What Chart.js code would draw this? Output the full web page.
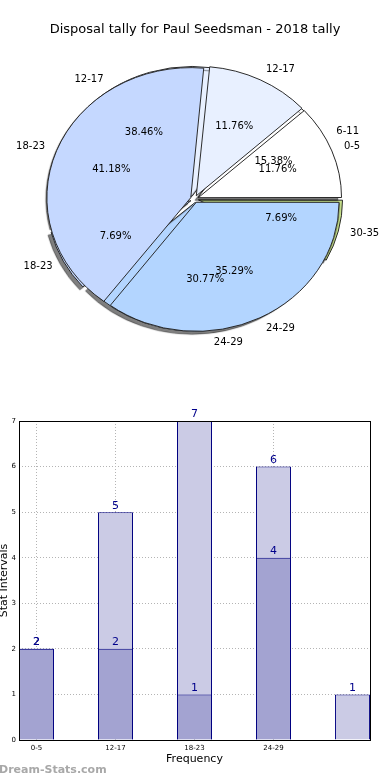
<!DOCTYPE html>
<html>
<head>
<meta charset="utf-8">
<script src="https://cdn.jsdelivr.net/npm/chart.js@4.4.1/dist/chart.umd.min.js"></script>
<style>
  body { margin: 0; background: #fff; }
  #wrap { position: relative; width: 390px; height: 780px; overflow: hidden; font-family: "DejaVu Sans", sans-serif; }
  #title { position: absolute; top: 21px; left: 0; width: 390px; text-align: center; font-size: 13px; color: #000; }
  canvas { position: absolute; left: 0; }
  #mark { position: absolute; left: -1px; top: 763px; font-size: 11px; font-weight: bold; color: #a8a8a8; }
</style>
</head>
<body>
<div id="wrap">
  <canvas id="pieA" width="390" height="380" style="top:0"></canvas>
  <canvas id="pieB" width="390" height="380" style="top:0"></canvas>
  <div id="title"></div>
  <canvas id="bars" width="390" height="380" style="top:400px"></canvas>
  <div id="mark">Dream-Stats.com</div>
</div>
<script>
// chart data
const chartTitle = "Disposal tally for Paul Seedsman - 2018 tally";

const pieALabels = ["6-11", "12-17", "18-23", "24-29", "30-35"];
const pieAValues = [2, 5, 1, 4, 1];

const pieBLabels = ["0-5", "12-17", "18-23", "24-29"];
const pieBValues = [2, 2, 7, 6];

const barCategories = ["0-5", "12-17", "18-23", "24-29", "30-35"];
const barTickLabels = ["0-5", "12-17", "18-23", "24-29"];
const lightValues = [2, 5, 7, 6, 1];
const darkValues = [2, 2, 1, 4, null];

const wedgeColors = {
    "0-5": "#ffffff", "6-11": "#ffffff", "12-17": "#e8f0ff",
    "18-23": "#c5d8ff", "24-29": "#b3d5ff", "30-35": "#c8e28c"
};

document.getElementById("title").textContent = chartTitle;

const SY = 0.904;      // pie is drawn a bit squashed, like the original
const FONT = "DejaVu Sans";

// squash the pie vertically (and give the lower pie its shadow)
function squashPlugin(shadow) {
    return {
        id: "squash",
        beforeDatasetsDraw(chart) {
            const el = chart.getDatasetMeta(0).data[0];
            const ctx = chart.ctx;
            ctx.save();
            ctx.translate(el.x, el.y);
            ctx.scale(1, SY);
            ctx.translate(-el.x, -el.y);
            if (shadow) {
                ctx.shadowColor = "rgba(0,0,0,0.5)";
                ctx.shadowOffsetX = -3;
                ctx.shadowOffsetY = 3;
                ctx.shadowBlur = 1;
            }
        },
        afterDatasetsDraw(chart) {
            chart.ctx.restore();
        }
    };
}

function pieConfig(labels, values, shadow, extraPlugins) {
    const labs = labels.slice().reverse();
    const vals = values.slice().reverse();
    return {
        type: "pie",
        data: {
            labels: labs,
            datasets: [{
                data: vals,
                backgroundColor: labs.map(l => wedgeColors[l]),
                borderColor: "#222",
                borderWidth: 1,
                offset: 16
            }]
        },
        options: {
            responsive: false,
            animation: false,
            rotation: 90,
            radius: 142,
            layout: { padding: { left: 40, right: 41, top: 40, bottom: 22 } },
            plugins: { legend: { display: false }, tooltip: { enabled: false } }
        },
        plugins: [squashPlugin(shadow)].concat(extraPlugins || [])
    };
}

function drawPieText(chart, ctx) {
    const meta = chart.getDatasetMeta(0);
    const ds = chart.data.datasets[0].data;
    const total = ds.reduce((a, b) => a + b, 0);
    ctx.font = "10px '" + FONT + "'";
    ctx.fillStyle = "#000";
    ctx.textBaseline = "middle";
    meta.data.forEach((el, i) => {
        const mid = (el.startAngle + el.endAngle) / 2;
        const off = (el.options.offset || 0) / 4;
        const r = el.outerRadius;
        const c = Math.cos(mid), s = Math.sin(mid);
        const lr = 1.1 * r + off;
        ctx.textAlign = c >= 0 ? "left" : "right";
        ctx.fillText(chart.data.labels[i], el.x + c * lr, el.y + s * lr * SY);
        const pr = 0.6 * r + off;
        ctx.textAlign = "center";
        ctx.fillText((ds[i] / total * 100).toFixed(2) + "%", el.x + c * pr, el.y + s * pr * SY);
    });
}

const pieA = new Chart(document.getElementById("pieA"), pieConfig(pieALabels, pieAValues, true));

const pieTextPlugin = {
    id: "pieText",
    afterDraw(chart) {
        drawPieText(pieA, chart.ctx);
        drawPieText(chart, chart.ctx);
    }
};
const pieB = new Chart(document.getElementById("pieB"), pieConfig(pieBLabels, pieBValues, false, [pieTextPlugin]));

// bar chart
const barFrame = {
    id: "barFrame",
    afterDraw(chart) {
        const a = chart.chartArea, ctx = chart.ctx;
        ctx.save();
        ctx.strokeStyle = "#000";
        ctx.lineWidth = 1;
        ctx.strokeRect(Math.round(a.left) + 0.5, Math.round(a.top) + 0.5,
            Math.round(a.right - a.left), Math.round(a.bottom - a.top));
        ctx.restore();
    }
};

const barValueLabels = {
    id: "barValueLabels",
    afterDatasetsDraw(chart) {
        const ctx = chart.ctx;
        ctx.save();
        ctx.font = "11px '" + FONT + "'";
        ctx.fillStyle = "#00008b";
        ctx.textAlign = "center";
        ctx.textBaseline = "bottom";
        chart.data.datasets.forEach((ds, di) => {
            chart.getDatasetMeta(di).data.forEach((bar, i) => {
                const v = ds.data[i].y;
                if (v === null) return;
                ctx.fillText(String(v), bar.x, bar.y - 1);
            });
        });
        ctx.restore();
    }
};

const gridStyle = {
    color: "#b4b4b4",
    lineWidth: 1,
    drawTicks: false,
    offset: false
};

new Chart(document.getElementById("bars"), {
    type: "bar",
    data: {
        datasets: [
            {
                label: "dark",
                data: darkValues.map((v, i) => ({ x: i, y: v })),
                backgroundColor: "#a3a3d1",
                borderColor: "#000080",
                borderWidth: 1,
                grouped: false,
                categoryPercentage: 1,
                barPercentage: 0.443
            },
            {
                label: "light",
                data: lightValues.map((v, i) => ({ x: i, y: v })),
                backgroundColor: "#cbcbe5",
                borderColor: "#000080",
                borderWidth: 1,
                grouped: false,
                categoryPercentage: 1,
                barPercentage: 0.443
            }
        ]
    },
    options: {
        responsive: false,
        animation: false,
        layout: { padding: { top: 21, right: 20, left: 0, bottom: 0 } },
        plugins: { legend: { display: false }, tooltip: { enabled: false } },
        scales: {
            x: {
                type: "linear",
                offset: false,
                min: -0.222,
                max: barCategories.length - 1 + 0.222,
                z: 1,
                border: { display: false, dash: [1, 2] },
                grid: gridStyle,
                afterBuildTicks: scale => {
                    scale.ticks = barTickLabels.map((t, i) => ({ value: i }));
                },
                ticks: {
                    autoSkip: false,
                    maxRotation: 0,
                    padding: 4,
                    color: "#000",
                    font: { family: FONT, size: 7 },
                    callback: v => barTickLabels[v]
                },
                title: {
                    display: true,
                    text: "Frequency",
                    color: "#000",
                    font: { family: FONT, size: 11 },
                    padding: { top: 0, bottom: 14 }
                },
                afterFit: scale => { scale.height = 40; }
            },
            y: {
                min: 0,
                max: 7,
                z: 1,
                border: { display: false, dash: [1, 2] },
                grid: gridStyle,
                ticks: {
                    stepSize: 1,
                    padding: 3,
                    color: "#000",
                    font: { family: FONT, size: 7 }
                },
                title: {
                    display: true,
                    text: "Stat Intervals",
                    color: "#000",
                    font: { family: FONT, size: 11, lineHeight: 0.8 },
                    padding: 0
                },
                afterFit: scale => { scale.width = 19; }
            }
        }
    },
    plugins: [barFrame, barValueLabels]
});
</script>
</body>
</html>
